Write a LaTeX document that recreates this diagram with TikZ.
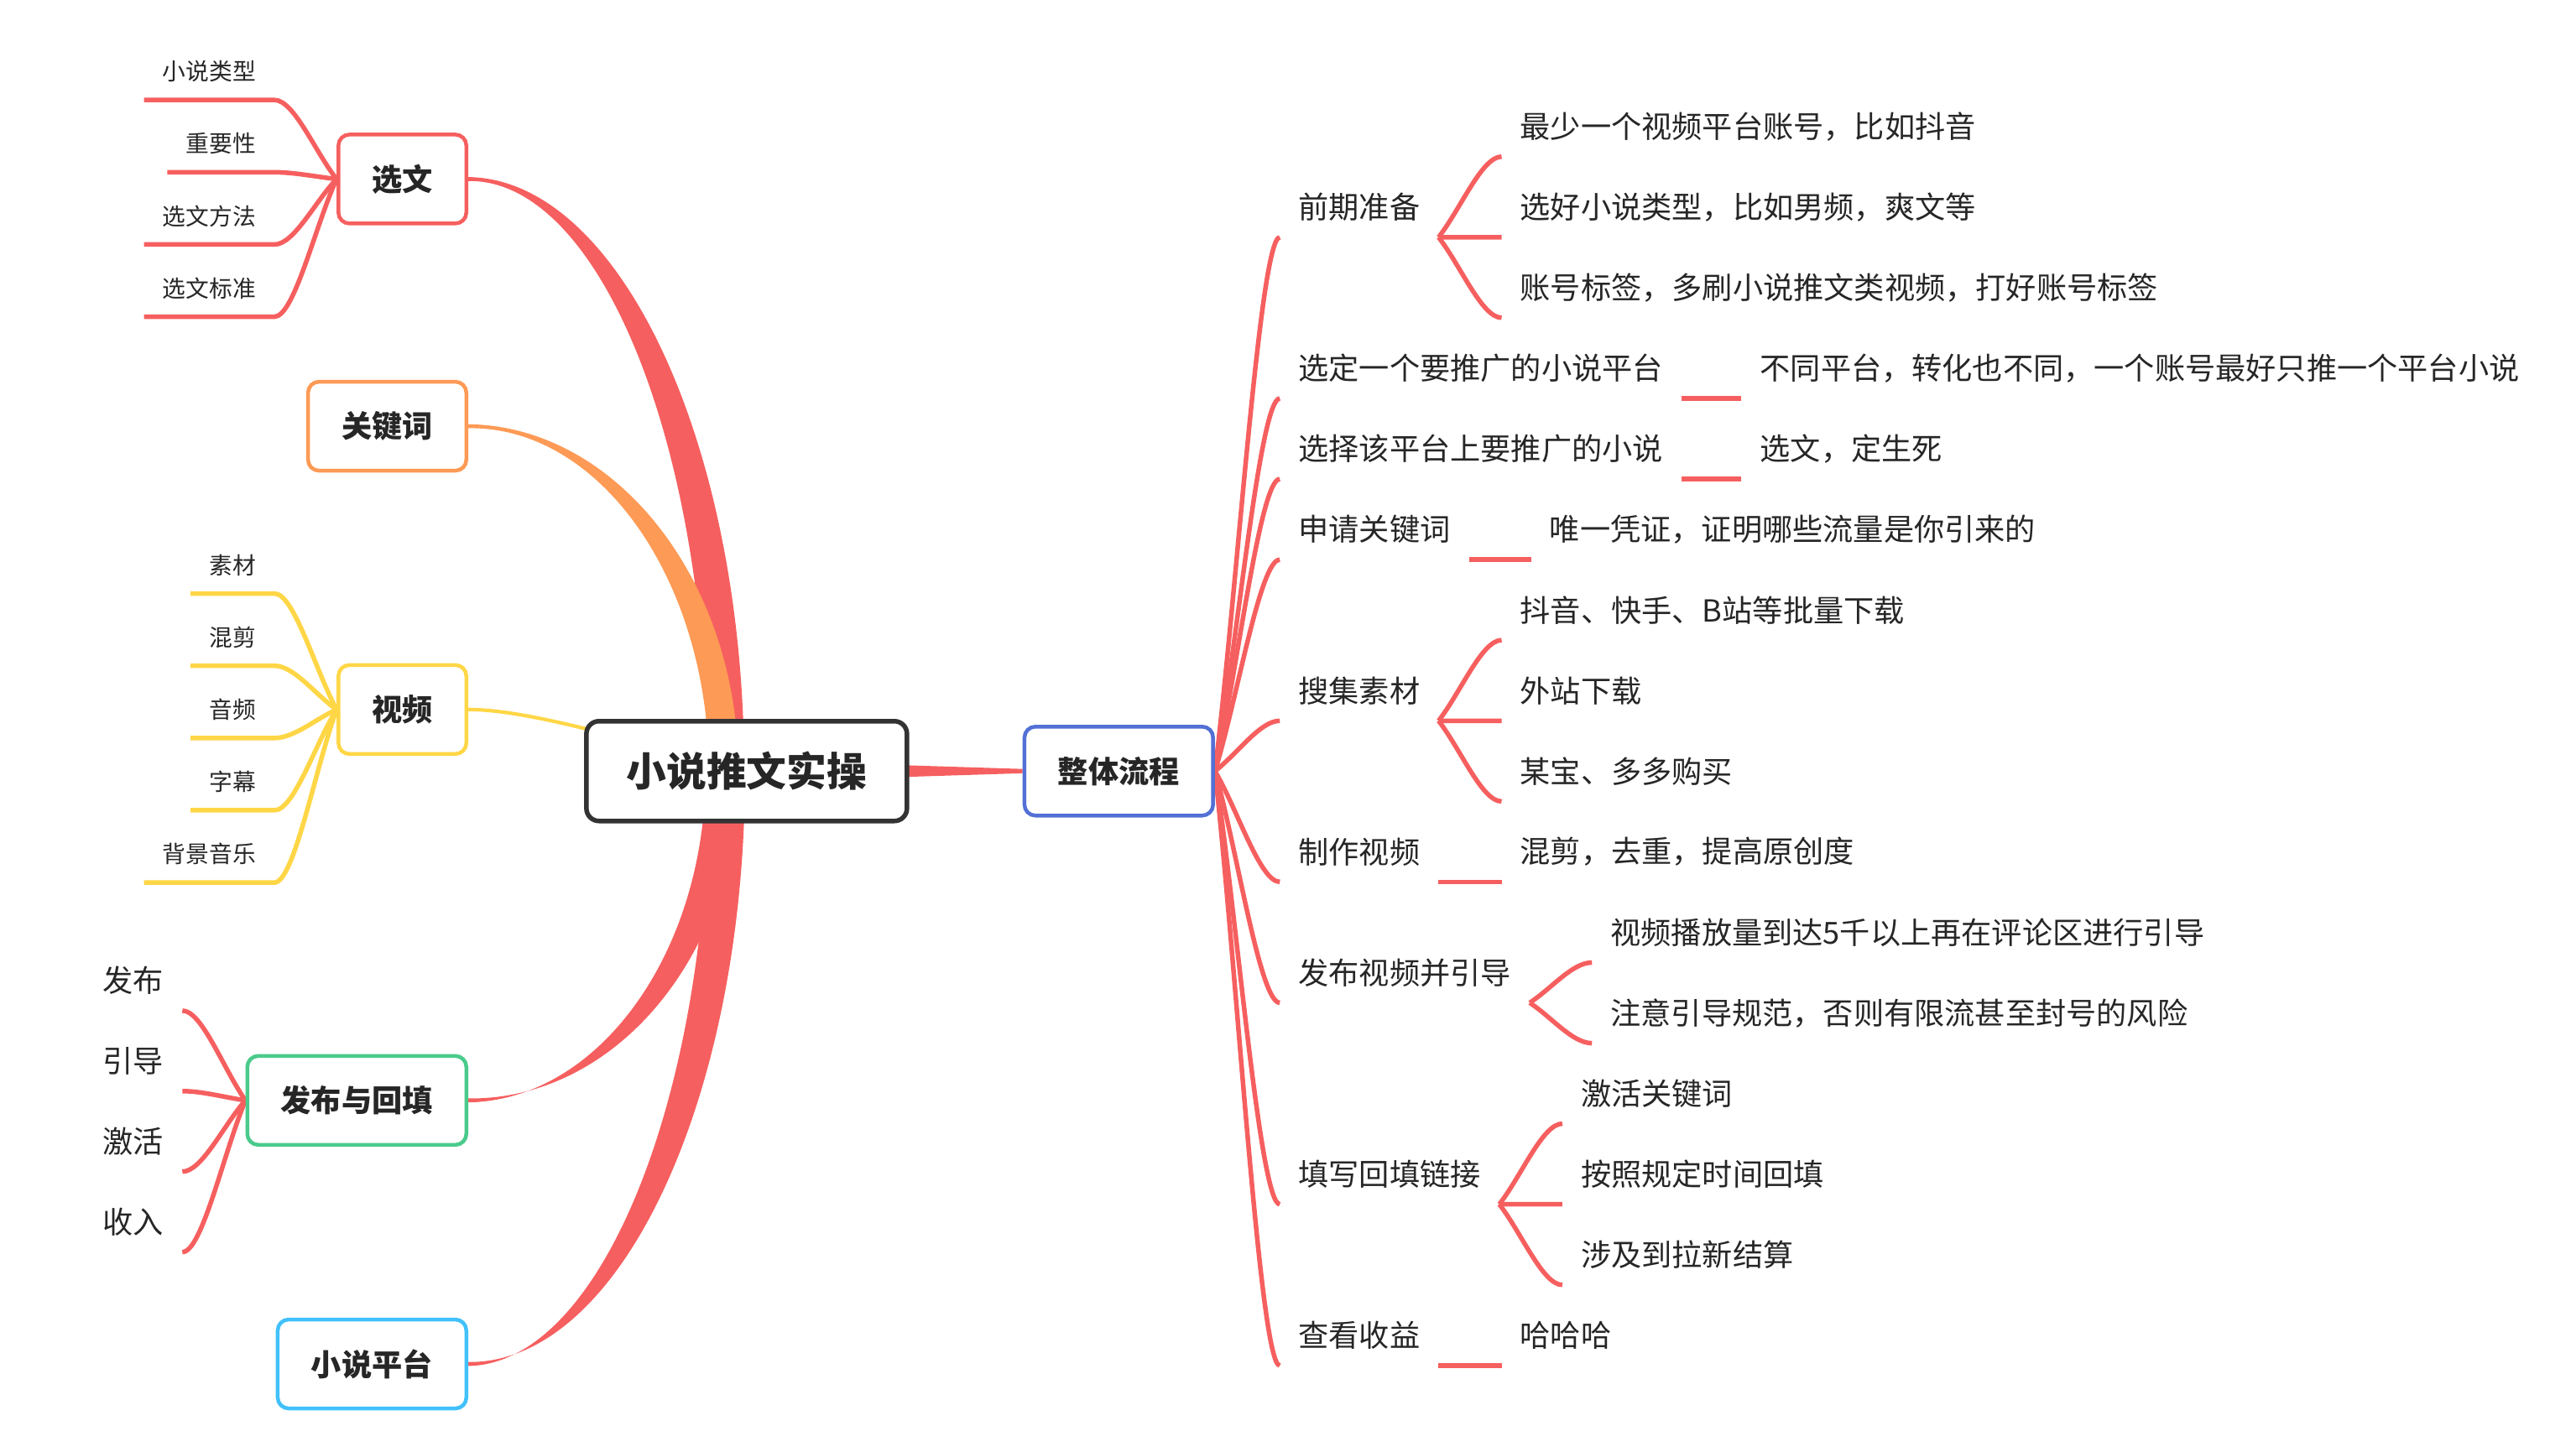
\documentclass[tikz,border=0pt]{standalone}
\usepackage{fontspec}
\setmainfont{Noto Sans CJK SC}
\usetikzlibrary{calc,backgrounds}
\definecolor{mmred}{HTML}{F65F5F}
\definecolor{mmorange}{HTML}{FD9A55}
\definecolor{mmyellow}{HTML}{FFD646}
\definecolor{mmgreen}{HTML}{4ACB8B}
\definecolor{mmcyan}{HTML}{41C1FA}
\definecolor{mmblue}{HTML}{5370D5}
\definecolor{mmdark}{HTML}{333333}
\definecolor{mmtext}{HTML}{262626}
\tikzset{
  every node/.style={text=mmtext},
  rootbox/.style={
    draw=mmdark, fill=white, line width=0.55mm, rounded corners=1.5mm,
    minimum width=38.2mm, minimum height=11.9mm, inner sep=0pt,
    font=\fontsize{13.6}{16}\selectfont\bfseries
  },
  mainbox/.style={
    fill=white, line width=0.45mm, rounded corners=1.3mm,
    minimum height=10.6mm, inner xsep=4mm, inner ysep=0pt,
    font=\fontsize{10.3}{12}\selectfont\bfseries
  },
  topic/.style={
    inner xsep=2.15mm, inner ysep=0pt, minimum height=7.05mm,
    font=\fontsize{10.3}{12}\selectfont
  },
  small/.style={
    inner xsep=2.15mm, inner ysep=0pt, minimum height=6.66mm,
    font=\fontsize{7.9}{9}\selectfont
  },
  link/.style={draw=#1, line width=0.55mm},
  link/.default=mmred,
  fan/.style={to path={.. controls ($(\tikztostart)!0.35!(\tikztotarget)$)
      and ($(\tikztotarget)+(#1,0)$) .. (\tikztotarget) \tikztonodes}},
  fan/.default=-12,
  % tapered branch: two quarter-ellipse edges, shifted #1 and #2 from the root
  branch/.style n args={2}{to path={
      ($(\tikztostart)+(#1,0)$)
      .. controls ($(\tikztostart)!0.55!(\tikztostart |- \tikztotarget)+(#1,0)$)
      and ($(\tikztotarget)!0.55!(\tikztostart |- \tikztotarget)+(0.55*#1,0)$)
      .. ($(\tikztotarget)+(0,1.2)$) -- ($(\tikztotarget)+(0,-1.2)$)
      .. controls ($(\tikztotarget)!0.55!(\tikztostart |- \tikztotarget)+(0.55*#2,0)$)
      and ($(\tikztostart)!0.55!(\tikztostart |- \tikztotarget)+(#2,0)$)
      .. ($(\tikztostart)+(#2,0)$) -- cycle}},
}

\begin{document}
\begin{tikzpicture}[x=0.1958mm, y=-0.1958mm]
  \useasboundingbox (0,0) rectangle (1568,884);

  % centre and first level
  \node[rootbox] (root) at (454.5,469.5) {小说推文实操};
  \node[mainbox, draw=mmblue] (flow) at (681,469.5) {整体流程};
  \node[mainbox, draw=mmred, anchor=east] (xw) at (285,109) {选文};
  \node[mainbox, draw=mmorange, anchor=east] (gjc) at (285,259.5) {关键词};
  \node[mainbox, draw=mmyellow, anchor=east] (sp) at (285,432) {视频};
  \node[mainbox, draw=mmgreen, anchor=east] (fbht) at (285,670) {发布与回填};
  \node[mainbox, draw=mmcyan, anchor=east] (xspt) at (285,830.5) {小说平台};

  % left leaves
  \node[small, anchor=east] (xslx) at (167,43.5) {小说类型};
  \node[small, anchor=east] (zyx) at (167,87.5) {重要性};
  \node[small, anchor=east] (xwff) at (167,131.5) {选文方法};
  \node[small, anchor=east] (xwbz) at (167,175.5) {选文标准};
  \node[small, anchor=east] (sc) at (167,344) {素材};
  \node[small, anchor=east] (hj) at (167,388) {混剪};
  \node[small, anchor=east] (yp) at (167,432) {音频};
  \node[small, anchor=east] (zm) at (167,476) {字幕};
  \node[small, anchor=east] (bjyy) at (167,520) {背景音乐};
  \node[topic, anchor=east] (fb) at (111,597) {发布};
  \node[topic, anchor=east] (yd) at (111,646) {引导};
  \node[topic, anchor=east] (jh) at (111,695) {激活};
  \node[topic, anchor=east] (sr) at (111,744) {收入};

  % right topics
  \node[topic, anchor=west] (qqzb) at (779,126.1) {前期准备};
  \node[topic, anchor=west] (xdpt) at (779,224.2) {选定一个要推广的小说平台};
  \node[topic, anchor=west] (xzxs) at (779,273.3) {选择该平台上要推广的小说};
  \node[topic, anchor=west] (sqgjc) at (779,322.4) {申请关键词};
  \node[topic, anchor=west] (sjsc) at (779,420.5) {搜集素材};
  \node[topic, anchor=west] (zzsp) at (779,518.6) {制作视频};
  \node[topic, anchor=west] (fbyd) at (779,592.2) {发布视频并引导};
  \node[topic, anchor=west] (txlj) at (779,714.9) {填写回填链接};
  \node[topic, anchor=west] (cksy) at (779,813.1) {查看收益};

  % right leaves
  \node[topic, anchor=west] (zszh) at (914,77) {最少一个视频平台账号，比如抖音};
  \node[topic, anchor=west] (xhlx) at (914,126.1) {选好小说类型，比如男频，爽文等};
  \node[topic, anchor=west] (zhbq) at (914,175.1) {账号标签，多刷小说推文类视频，打好账号标签};
  \node[topic, anchor=west] (btpt) at (1060,224.2) {不同平台，转化也不同，一个账号最好只推一个平台小说};
  \node[topic, anchor=west] (xwds) at (1060,273.3) {选文，定生死};
  \node[topic, anchor=west] (wypz) at (932,322.4) {唯一凭证，证明哪些流量是你引来的};
  \node[topic, anchor=west] (dyks) at (914,371.4) {抖音、快手、B站等批量下载};
  \node[topic, anchor=west] (wzxz) at (914,420.5) {外站下载};
  \node[topic, anchor=west] (mbgm) at (914,469.6) {某宝、多多购买};
  \node[topic, anchor=west] (hjqc) at (914,518.6) {混剪，去重，提高原创度};
  \node[topic, anchor=west] (bfl) at (969,567.7) {视频播放量到达5千以上再在评论区进行引导};
  \node[topic, anchor=west] (zyyd) at (969,616.8) {注意引导规范，否则有限流甚至封号的风险};
  \node[topic, anchor=west] (jhgjc) at (951,665.8) {激活关键词};
  \node[topic, anchor=west] (azgd) at (951,714.9) {按照规定时间回填};
  \node[topic, anchor=west] (sjlx) at (951,764) {涉及到拉新结算};
  \node[topic, anchor=west] (hhh) at (914,813.1) {哈哈哈};

  \begin{scope}[on background layer]
    % tapered main branches
    \fill[mmred] (root.center) to[branch={-24}{-1.5}] (xw.east);
    \fill[mmorange] (root.center) to[branch={-23}{-5}] (gjc.east);
    \fill[mmred] (root.center) to[branch={-25}{-5}] (fbht.east);
    \fill[mmred] (root.center) to[branch={-23}{-1}] (xspt.east);
    \draw[mmyellow, line width=0.42mm] (sp.east) .. controls +(40,0) and +(-60,-15) .. (root.center);
    \fill[mmred] ($(root.center)+(0,-6.6)$) -- ($(flow.west)+(0,-1.3)$)
      -- ($(flow.west)+(0,1.3)$) -- ($(root.center)+(0,6.6)$) -- cycle;

    % left side
    \foreach \t in {xslx,zyx,xwff,xwbz}
      \draw[link] (xw.west) to[fan=12] (\t.south east) -- (\t.south west);
    \foreach \t in {sc,hj,yp,zm,bjyy}
      \draw[link=mmyellow] (sp.west) to[fan=12] (\t.south east) -- (\t.south west);
    \foreach \t in {fb,yd,jh,sr}
      \draw[link] (fbht.west) to[fan=12] (\t.south east);

    % right side
    \foreach \t in {qqzb,xdpt,xzxs,sqgjc,sjsc,zzsp,fbyd,txlj,cksy}
      \draw[link] (flow.east) to[fan] (\t.south west);
    \foreach \t in {zszh,xhlx,zhbq}
      \draw[link] (qqzb.south east) to[fan] (\t.south west);
    \foreach \t in {dyks,wzxz,mbgm}
      \draw[link] (sjsc.south east) to[fan] (\t.south west);
    \foreach \t in {bfl,zyyd}
      \draw[link] (fbyd.south east) to[fan] (\t.south west);
    \foreach \t in {jhgjc,azgd,sjlx}
      \draw[link] (txlj.south east) to[fan] (\t.south west);
    \draw[link] (xdpt.south east) -- (btpt.south west);
    \draw[link] (xzxs.south east) -- (xwds.south west);
    \draw[link] (sqgjc.south east) -- (wypz.south west);
    \draw[link] (zzsp.south east) -- (hjqc.south west);
    \draw[link] (cksy.south east) -- (hhh.south west);
  \end{scope}
\end{tikzpicture}
\end{document}
